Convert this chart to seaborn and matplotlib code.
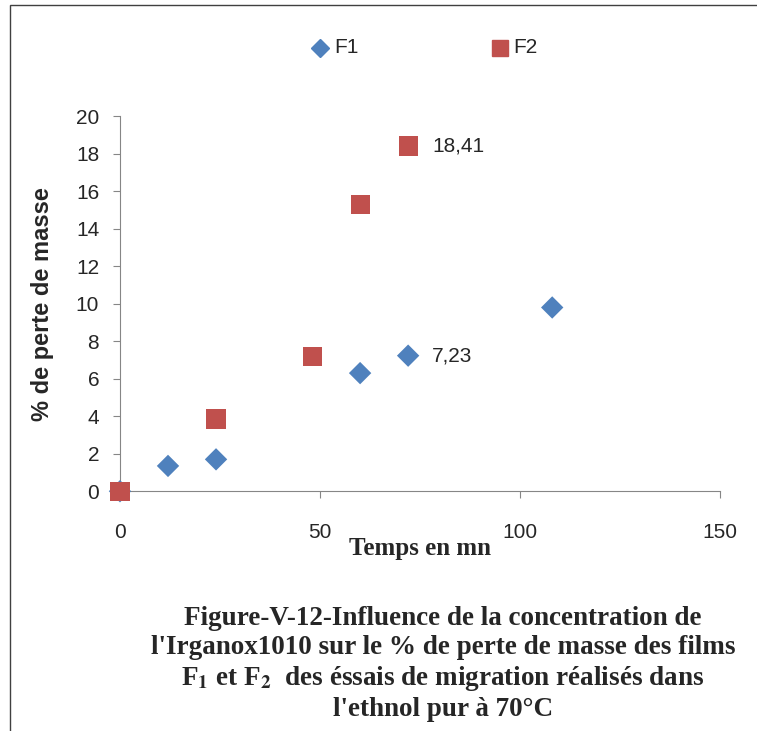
import matplotlib
matplotlib.use("Agg")
import matplotlib.pyplot as plt
import seaborn as sns
import pandas as pd
from matplotlib.patches import Rectangle

sns.set_style("white")
plt.rcParams['font.family'] = ['Liberation Sans', 'DejaVu Sans']
plt.rcParams['mathtext.fontset'] = 'stix'

# Données
temps_f1 = [0, 12, 24, 60, 72, 108]
perte_f1 = [0, 1.35, 1.7, 6.3, 7.23, 9.8]
temps_f2 = [0, 24, 48, 60, 72]
perte_f2 = [0, 3.85, 7.2, 15.3, 18.41]

df = pd.concat([
    pd.DataFrame({'t': temps_f1, 'p': perte_f1, 'film': 'F1'}),
    pd.DataFrame({'t': temps_f2, 'p': perte_f2, 'film': 'F2'}),
])

fig = plt.figure(figsize=(7.57, 7.31), dpi=100)
ax = fig.add_axes([0.1585, 0.328, 0.793, 0.513])

sns.scatterplot(data=df, x='t', y='p', hue='film', style='film',
                markers={'F1': 'D', 'F2': 's'},
                palette={'F1': '#4F81BD', 'F2': '#C0504D'},
                size='film', sizes={'F1': 130, 'F2': 190},
                edgecolor='none', ax=ax, legend=False, clip_on=False, zorder=3)

# Étiquettes des derniers points
ax.text(72 + 6, 7.23, '7,23', va='center', fontsize=15)
ax.text(72 + 6, 18.41, '18,41', va='center', fontsize=15)

ax.set_xlim(0, 150)
ax.set_ylim(0, 20)
ax.set_xticks([0, 50, 100, 150])
ax.set_yticks(range(0, 21, 2))
ax.tick_params(labelsize=15, length=5, direction='out', color='#868686',
               bottom=True, left=True)
ax.tick_params(axis='x', pad=18)
ax.tick_params(axis='y', pad=10)
for s in ['top', 'right']:
    ax.spines[s].set_visible(False)
for s in ['left', 'bottom']:
    ax.spines[s].set_color('#868686')
ax.set_xlabel('Temps en mn', fontsize=18, fontweight='bold',
              family='Liberation Serif', labelpad=-4)
ax.set_ylabel('% de perte de masse', fontsize=17, fontweight='bold', labelpad=16)

# Légende en haut
ax_leg = [('F1', 'D', '#4F81BD', 0.423), ('F2', 's', '#C0504D', 0.66)]
for lab, m, c, x in ax_leg:
    fig.lines.append(plt.Line2D([x], [0.935], marker=m, color=c, markersize=9 if m == 'D' else 11,
                                linestyle='none', transform=fig.transFigure))
    fig.text(x + 0.018, 0.935, lab, va='center', fontsize=15)

# Légende de la figure
fig.text(0.585, 0.092,
         "Figure-V-12-Influence de la concentration de\n"
         "l'Irganox1010 sur le % de perte de masse des films\n"
         "F$_{\\mathbf{1}}$ et F$_{\\mathbf{2}}$  des éssais de migration réalisés dans\n"
         "l'ethnol pur à 70°C",
         ha='center', va='center', fontsize=19.5, fontweight='bold',
         family='Liberation Serif', linespacing=1.2)

# Cadre
fig.patches.append(Rectangle((0.013, -0.01), 1.0, 1.003, fill=False, edgecolor='#404040',
                             linewidth=1, transform=fig.transFigure))

fig.savefig('out.png', dpi=100)
